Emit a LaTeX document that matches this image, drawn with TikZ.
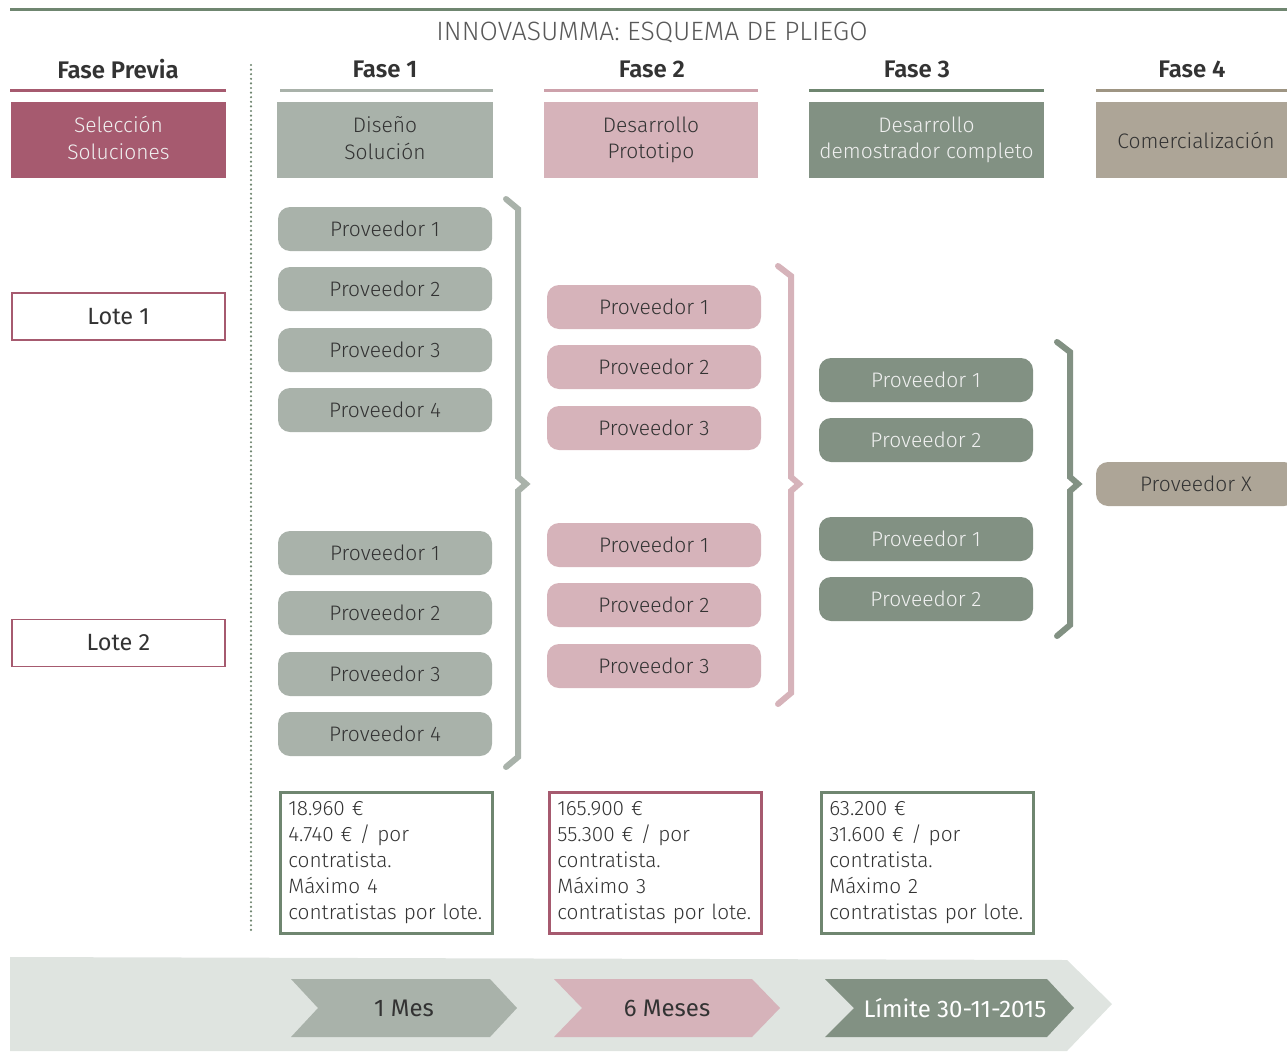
\documentclass[tikz,border=0pt]{standalone}
\usepackage{fontspec}
\IfFontExistsTF{Fira Sans Light}{%
  \setmainfont{Fira Sans Light}[BoldFont={Fira Sans SemiBold}]
}{%
  \IfFontExistsTF{FiraSans-Light}{%
    \setmainfont{FiraSans-Light}[BoldFont={FiraSans-SemiBold}]
  }{%
    \setmainfont{Fira Sans}
  }%
}
\newfontfamily\regfont{Fira Sans}
\definecolor{granate}{HTML}{A65A6F}
\definecolor{salvia}{HTML}{A9B2AA}
\definecolor{rosa}{HTML}{D6B3BA}
\definecolor{verde}{HTML}{829183}
\definecolor{verdeosc}{HTML}{6F8670}
\definecolor{topo}{HTML}{ADA597}
\definecolor{topoosc}{HTML}{9E9583}
\definecolor{fondo}{HTML}{DFE4E0}
\definecolor{texto}{HTML}{333333}

\begin{document}
\begin{tikzpicture}[x=1pt,y=-1pt,
  prov/.style={rounded corners=12pt,minimum width=214pt,minimum height=44pt,inner sep=0pt,font=\fontsize{21}{24}\selectfont},
  cabecera/.style={minimum width=215pt,minimum height=76pt,inner sep=0pt,align=center,font=\fontsize{21}{26.5}\selectfont},
  fase/.style={font=\bfseries\fontsize{24}{28}\selectfont,text=texto},
  raya/.style={line width=3pt},
  lote/.style={draw=granate,line width=1.4pt,minimum width=213pt,minimum height=47pt,font=\regfont\fontsize{23.5}{27}\selectfont,text=texto},
  importe/.style={draw,line width=2.5pt,anchor=north west,minimum height=141pt,text width=196pt,inner xsep=8pt,align=left,font=\fontsize{20.8}{25.9}\selectfont,text=texto},
  llave/.style={line width=6pt,line cap=round},
  plazo/.style={font=\regfont\fontsize{24}{28}\selectfont}]
\useasboundingbox (0,0) rectangle (1287,1052);

% cabecera
\draw[verdeosc,line width=3pt] (10,9) -- (1287,9);
\node[text=black!65,font=\fontsize{26.5}{30}\selectfont] (titulo) at (652,33) {INNOVASUMMA: ESQUEMA DE PLIEGO};

\node[fase] (fprev) at (118,69) {Fase Previa};
\node[fase] (fase1) at (385,69) {Fase 1};
\node[fase] (fase2) at (652,69) {Fase 2};
\node[fase] (fase3) at (917,69) {Fase 3};
\node[fase] (fase4) at (1192,69) {Fase 4};
\draw[raya,granate] (10,90) -- (226,90);
\draw[raya,salvia] (280,90) -- (493,90);
\draw[raya,rosa!80!granate] (544,90) -- (758,90);
\draw[raya,verdeosc] (809,90) -- (1044,90);
\draw[raya,topoosc] (1096,90) -- (1287,90);

\fill[granate] (11,102) rectangle (226,178);
\fill[salvia] (277,102) rectangle (493,178);
\node[cabecera,text=white!94!black] (sel) at (118.5,138) {Selección\\Soluciones};
\node[cabecera,text=texto] (dis) at (385,138) {Diseño\\Solución};
\node[cabecera,fill=rosa,text=texto,minimum width=214pt] (proto) at (651,140) {Desarrollo\\Prototipo};
\node[cabecera,fill=verde,text=white!94!black,minimum width=235pt] (demo) at (926.5,140) {Desarrollo\\demostrador completo};
\node[cabecera,fill=topo,text=texto,minimum width=200pt] (com) at (1196,140) {Comercialización};

\draw[verdeosc,line width=2.4pt,line cap=round,dash pattern=on 0pt off 4.6pt] (251,65) -- (251,932);

% lotes
\node[lote] (lote1) at (118.5,316.5) {Lote 1};
\node[lote] (lote2) at (118.5,643) {Lote 2};

% proveedores
\foreach \i/\y in {1/229,2/289,3/350,4/410}
  \node[prov,fill=salvia,text=texto] (f1a\i) at (385,\y) {Proveedor \i};
\foreach \i/\y in {1/553,2/613,3/674,4/734}
  \node[prov,fill=salvia,text=texto] (f1b\i) at (385,\y) {Proveedor \i};
\foreach \i/\y in {1/307,2/367,3/428}
  \node[prov,fill=rosa,text=texto] (f2a\i) at (654,\y) {Proveedor \i};
\foreach \i/\y in {1/545,2/605,3/666}
  \node[prov,fill=rosa,text=texto] (f2b\i) at (654,\y) {Proveedor \i};
\foreach \i/\y in {1/380,2/440}
  \node[prov,fill=verde,text=white!94!black] (f3a\i) at (926,\y) {Proveedor \i};
\foreach \i/\y in {1/539,2/599}
  \node[prov,fill=verde,text=white!94!black] (f3b\i) at (926,\y) {Proveedor \i};
\node[prov,fill=topo,text=texto,minimum width=200pt] (provx) at (1196,484) {Proveedor X};

% llaves
\draw[llave,salvia] (506,199) -- (518,209) -- (518,477) -- (526,484) -- (518,491) -- (518,757) -- (506,767);
\draw[llave,rosa] (778,266) -- (791,276) -- (791,477) -- (799,484) -- (791,491) -- (791,693) -- (778,704);
\draw[llave,verde] (1057,342) -- (1070,352) -- (1070,477) -- (1078,484) -- (1070,491) -- (1070,625) -- (1057,636);

% importes
\node[importe,draw=verdeosc] (imp1) at (279,791) {18.960 €\\4.740 € / por\\contratista.\\Máximo 4\\contratistas por lote.};
\node[importe,draw=granate] (imp2) at (548,791) {165.900 €\\55.300 € / por\\contratista.\\Máximo 3\\contratistas por lote.};
\node[importe,draw=verdeosc] (imp3) at (820,791) {63.200 €\\31.600 € / por\\contratista.\\Máximo 2\\contratistas por lote.};

% plazos
\fill[fondo] (10,957) -- (1067,960) -- (1112,1004) -- (1067,1051) -- (10,1051) -- cycle;
\fill[salvia] (291,979) -- (490,979) -- (517,1008) -- (490,1037) -- (291,1037) -- (318,1008) -- cycle;
\fill[rosa] (554,979) -- (752,979) -- (780,1008) -- (752,1037) -- (554,1037) -- (582,1008) -- cycle;
\fill[verde] (825,979) -- (1047,979) -- (1074,1008) -- (1047,1037) -- (825,1037) -- (854,1008) -- cycle;
\node[plazo,text=texto] (mes1) at (404,1008) {1 Mes};
\node[plazo,text=texto] (mes6) at (667,1008) {6 Meses};
\node[plazo,text=white] (limite) at (955,1008) {Límite 30-11-2015};
\end{tikzpicture}
\end{document}
